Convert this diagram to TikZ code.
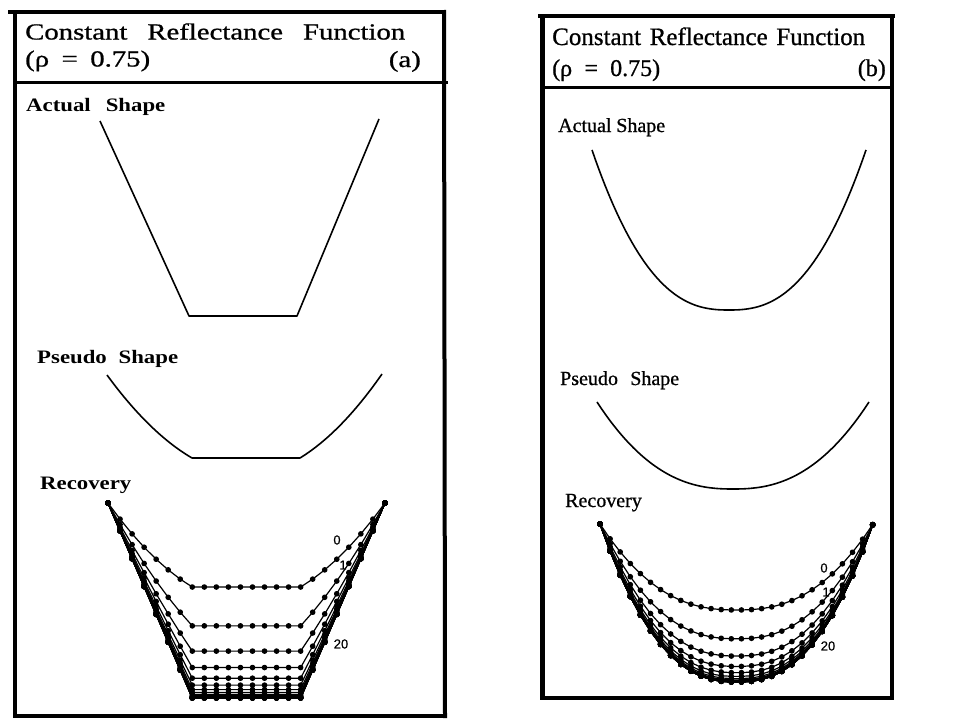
\documentclass[tikz,border=0pt]{standalone}
\usepackage{fontspec}
\setmainfont{Liberation Serif}
\newfontfamily\darkserif[FakeBold=0.8]{Liberation Serif}
\newfontfamily\numfont[FakeBold=0.6]{Liberation Sans}
\usepackage{graphicx}
\begin{document}
\begin{tikzpicture}[x=1pt,y=-1pt,
  frame/.style={line width=4pt},
  hline/.style={line width=3pt},
  shp/.style={line width=1.6pt, line join=round},
  iter/.style={line width=1.2pt, line join=round, mark=*, mark size=2.2pt},
  txt/.style={anchor=base west, inner sep=0pt},
  num/.style={inner sep=0pt, font=\numfont\fontsize{13}{13}\selectfont},
  declare function={fa(\t,\v)=(1-\v)*(1.4*\t-0.4*\t*\t)+\v*\t;}
  ]
\fill[white] (0,0) rectangle (960,720);
\useasboundingbox (0,0) rectangle (960,720);

% ---------------- panel (a) ----------------
\draw[frame] (8,12) -- (446,12);
\draw[line width=4.5pt] (15,10) -- (15,718);
\draw[frame] (444,10) -- (445,718);
\draw[hline] (13,82) -- (448,82);
\draw[line width=3.5pt] (13,716) -- (447,716);

\node[txt, font=\darkserif\fontsize{23}{26}\selectfont] (ta1) at (25,39.5)
  {\scalebox{1.25}[1]{\makebox[304pt][s]{Constant Reflectance Function}}};
\node[txt, font=\darkserif\fontsize{23}{26}\selectfont] (ta2) at (25,66.5)
  {\scalebox{1.25}[1]{\makebox[100pt][s]{(ρ = 0.75)}}};
\node[anchor=base east, inner sep=0pt, font=\darkserif\fontsize{23}{26}\selectfont] (ta3) at (421,67)
  {\scalebox{1.25}[1]{(a)}};

\node[txt, font=\bfseries\fontsize{19}{22}\selectfont] (la1) at (26,111)
  {\scalebox{1.2}[1]{\makebox[116pt][s]{Actual Shape}}};
\node[txt, font=\bfseries\fontsize{19}{22}\selectfont] (la2) at (37,363)
  {\scalebox{1.2}[1]{\makebox[117.5pt][s]{Pseudo Shape}}};
\node[txt, font=\bfseries\fontsize{19}{22}\selectfont] (la3) at (40,489)
  {\scalebox{1.2}[1]{Recovery}};

% actual shape (a)
\draw[shp] (100,121) -- (189,316) -- (297,316) -- (379,119);
% pseudo shape (a)
\draw[shp] plot[domain=0:1, samples=30, variable=\t] ({107+85*\t},{375+83*(1.4*\t-0.4*\t*\t)})
  -- (300,458)
  -- plot[domain=1:0, samples=30, variable=\t] ({382-82*\t},{374+84*(1.4*\t-0.4*\t*\t)});
% recovery (a)
\foreach \n in {0,...,20}{
  \pgfmathsetmacro\Dd{195-111*0.65^\n}
  \pgfmathsetmacro\wt{1-0.65^\n}
  \draw[iter] plot[variable=\i, samples at={0,...,23}]
    ({108+12.04*\i},{503+\Dd*fa(1-max(0,(7-\i)/7,(\i-16)/7),\wt)});
}
\node[num] (na0) at (337,540) {0};
\node[num] (na1) at (343,565) {1};
\node[num] (na20) at (341,644) {20};

% ---------------- panel (b) ----------------
\draw[frame] (538,16) -- (895,16);
\draw[line width=5pt] (542,14) -- (542,700);
\draw[frame] (892,14) -- (892,700);
\draw[hline] (540,87) -- (894,87);
\draw[frame] (540,698) -- (894,698);

\node[txt, font=\darkserif\fontsize{25}{28}\selectfont] (tb1) at (552,45)
  {\makebox[313pt][s]{Constant Reflectance Function}};
\node[txt, font=\darkserif\fontsize{24}{26}\selectfont] (tb2) at (552,76)
  {\makebox[108pt][s]{(ρ = 0.75)}};
\node[anchor=base east, inner sep=0pt, font=\darkserif\fontsize{24}{26}\selectfont] (tb3) at (886,76) {(b)};

\node[txt, font=\darkserif\fontsize{20}{23}\selectfont] (lb1) at (558,132)
  {\makebox[107pt][s]{Actual Shape}};
\node[txt, font=\darkserif\fontsize{20}{23}\selectfont] (lb2) at (560,385)
  {\makebox[119pt][s]{Pseudo Shape}};
\node[txt, font=\darkserif\fontsize{20}{23}\selectfont] (lb3) at (565,507) {Recovery};

% actual shape (b)
\draw[shp] plot[domain=-137:137, samples=90, variable=\u]
  ({729+\u},{310-160*(abs(\u)/137+0.0001)^2.5});
% pseudo shape (b)
\draw[shp] plot[domain=-136:136, samples=90, variable=\u]
  ({733+\u},{489-87*(abs(\u)/136+0.0001)^2.4});
% recovery (b)
\foreach \n in {0,...,20}{
  \pgfmathsetmacro\Dd{158-72*0.6^\n}
  \draw[iter] plot[variable=\i, samples at={0,...,27}]
    ({600+10.1*\i},{524+\Dd*(1-(abs(600+10.1*\i-736.5)/136.5)^2.45)});
}
\node[num] (nb0) at (824,568) {0};
\node[num] (nb1) at (826,592) {1};
\node[num] (nb20) at (828,646) {20};
\end{tikzpicture}
\end{document}
